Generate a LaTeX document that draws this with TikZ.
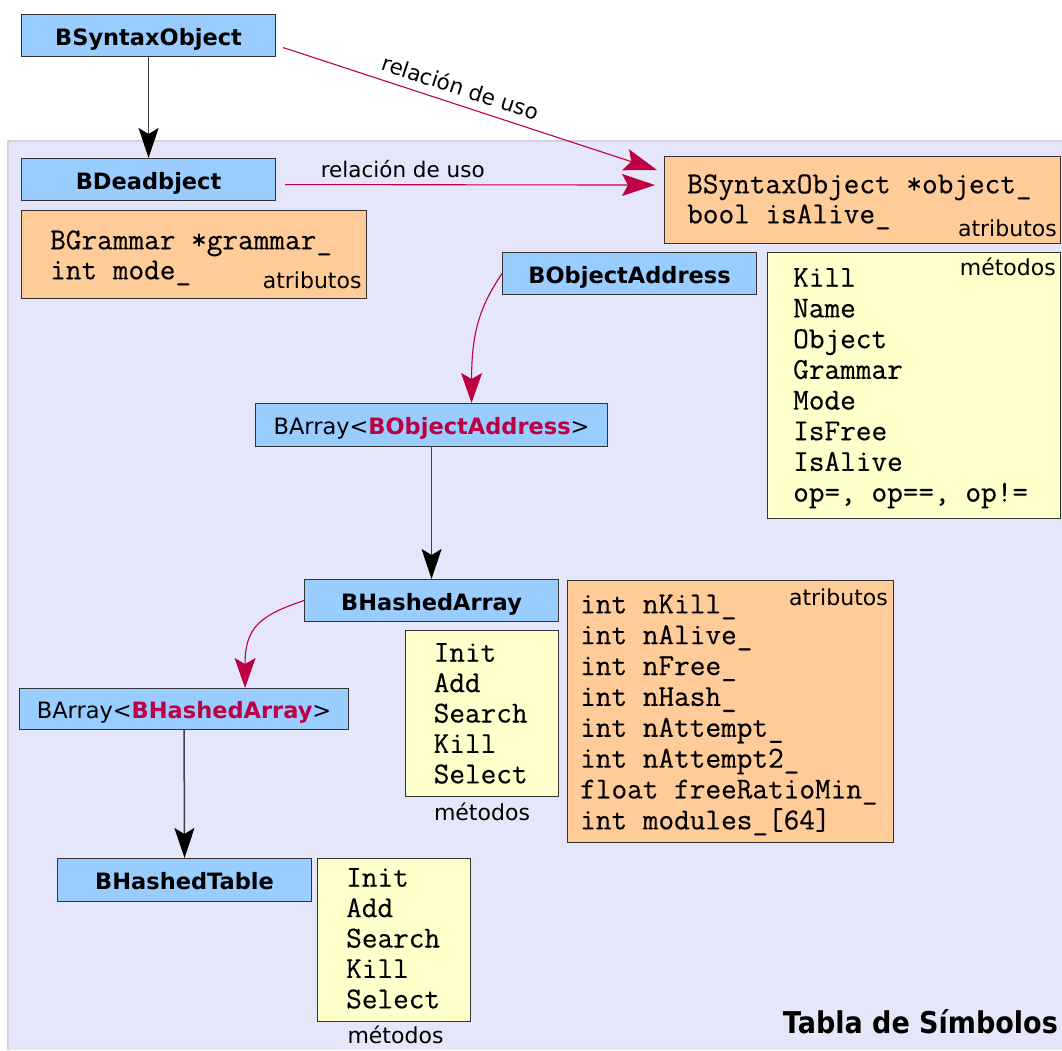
\documentclass[tikz,border=0pt]{standalone}
\usepackage{fontspec}
\setmainfont{DejaVu Sans}
\newfontfamily\codefont{Latin Modern Mono}[FakeBold=0.35]
\usetikzlibrary{arrows.meta}
\definecolor{clsblue}{HTML}{99CCFF}
\definecolor{attrorange}{HTML}{FFCC99}
\definecolor{methyellow}{HTML}{FFFFCC}
\definecolor{panelfill}{HTML}{E6E6FA}
\definecolor{panelborder}{HTML}{D2D2DC}
\definecolor{usered}{HTML}{BB0044}
\begin{document}
\begin{tikzpicture}[x=1pt,y=-1pt,
  boxbase/.style={draw=black!80, line width=1.1pt, inner sep=0pt, anchor=north west},
  cls/.style={boxbase, fill=clsblue, minimum width=254pt, minimum height=42pt,
    font=\fontsize{22.5}{27}\selectfont\bfseries, text height=19pt, text depth=0pt},
  clsreg/.style={boxbase, fill=clsblue, font=\fontsize{22.5}{27}\selectfont,
    text height=19pt, text depth=0pt},
  attrbox/.style={boxbase, fill=attrorange},
  methbox/.style={boxbase, fill=methyellow},
  code/.style={anchor=base west, inner sep=0pt, font=\fontsize{30.4}{30.8}\selectfont\codefont},
  lbl/.style={inner sep=0pt, font=\fontsize{22}{26}\selectfont},
  rellbl/.style={inner sep=0pt, font=\fontsize{21.5}{26}\selectfont},
  inh/.style={draw=black!75, line width=1.5pt, -{Stealth[length=30pt,width=20pt,inset=6pt,color=black]}},
  usearrow/.style={draw=usered, line width=1.1pt, -{Stealth[length=33pt,width=22pt,inset=6pt]}},
  usecurve/.style={draw=usered, line width=1.1pt, -{Stealth[length=30pt,width=21pt,inset=6pt]}}
]
\useasboundingbox (0,0) rectangle (1062,1050);
\fill[white] (0,0) rectangle (1062,1050);
% panel
\fill[panelfill] (8,141) rectangle (1062,1050);
\draw[panelborder, line width=1.6pt] (8,1050) -- (8,141) -- (1062,141);

% class boxes
\node[cls] (SO) at (21,14) {BSyntaxObject};
\node[cls] (DO) at (21,158) {BDeadbject};
\node[cls] (BOA) at (502,252) {BObjectAddress};
\node[clsreg, minimum width=352pt, minimum height=43pt] (AR1) at (255,403)
  {BArray<{\bfseries\color{usered}BObjectAddress}>};
\node[cls] (HA) at (304,579) {BHashedArray};
\node[clsreg, minimum width=329pt, minimum height=41pt] (AR2) at (19,688)
  {BArray<{\bfseries\color{usered}BHashedArray}>};
\node[cls, minimum height=43pt] (HT) at (57,858) {BHashedTable};

% attribute / method boxes
\node[attrbox, minimum width=345pt, minimum height=88pt] (GA) at (21,210) {};
\node[attrbox, minimum width=396pt, minimum height=87pt] (OA) at (664,156) {};
\node[methbox, minimum width=293pt, minimum height=266pt] (OM) at (767,252) {};
\node[methbox, minimum width=153pt, minimum height=166pt] (HM) at (405,630) {};
\node[attrbox, minimum width=326pt, minimum height=262pt] (HAt) at (567,580) {};
\node[methbox, minimum width=153pt, minimum height=163pt] (TM) at (317,858) {};

% code texts
\node[code] (ga1) at (50,249.3) {BGrammar *grammar\_};
\node[code] (ga2) at (50,279.3) {int mode\_};
\node[lbl, anchor=base east] (gal) at (361.7,288.3) {atributos};

\node[code] (oa1) at (687,193.3) {BSyntaxObject *object\_};
\node[code] (oa2) at (687,223.3) {bool isAlive\_};
\node[lbl, anchor=base east] (oal) at (1057,236.7) {atributos};

\foreach \t [count=\i from 0] in {Kill,Name,Object,Grammar,Mode,IsFree,IsAlive,{op=, op==, op!=}}
  \node[code] (om\i) at (793,286.7+30.7*\i) {\t};
\node[lbl, anchor=base east] (oml) at (1056,275) {métodos};

\foreach \t [count=\i from 0] in {Init,Add,Search,Kill,Select}
  \node[code] (hm\i) at (433.5,661.7+30.4*\i) {\t};
\node[lbl, anchor=base] (hml) at (482,820) {métodos};

\foreach \t [count=\i from 0] in {int nKill\_,int nAlive\_,int nFree\_,int nHash\_,int nAttempt\_,int nAttempt2\_,float freeRatioMin\_,int modules\_[64]}
  \node[code] (ha\i) at (580,613.3+30.86*\i) {\t};
\node[lbl, anchor=base east] (hal) at (888,605) {atributos};

\foreach \t [count=\i from 0] in {Init,Add,Search,Kill,Select}
  \node[code] (tm\i) at (346,886.7+30.4*\i) {\t};
\node[lbl, anchor=base] (tml) at (395.5,1043) {métodos};

\node[inner sep=0pt, anchor=base east, font=\fontsize{30}{34}\selectfont\bfseries] (title) at (1058,1033)
  {\scalebox{0.9}[1]{Tabla de Símbolos}};

% inheritance arrows
\draw[inh] (SO.south) -- (DO.north);
\draw[inh] (AR1.south) -- (HA.north);
\draw[inh] (AR2.south) -- (HT.north);

% use relations
\draw[usearrow] ([shift={(7,12)}]SO.east) --
  node[rellbl, sloped, pos=0.46, anchor=south, yshift=8.5pt] (r1) {relación de uso}
  ([shift={(-7,-30)}]OA.west);
\draw[usearrow] ([shift={(9,5)}]DO.east) --
  node[rellbl, pos=0.318, anchor=base, yshift=7pt] (r2) {relación de uso}
  ([shift={(-9,-15)}]OA.west);
\draw[usecurve] (BOA.west) .. controls +(-20,30) and +(0,-75) .. ([xshift=40pt]AR1.north);
\draw[usecurve] (HA.west) .. controls +(-45,15) and +(0,-60) .. ([xshift=61pt]AR2.north);
\end{tikzpicture}
\end{document}
